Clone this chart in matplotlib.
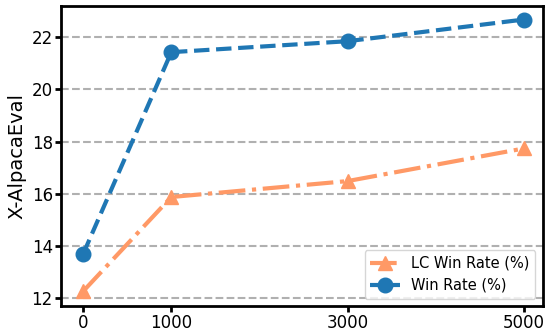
import matplotlib
matplotlib.use('Agg')
import matplotlib.pyplot as plt

steps = [0, 1000, 3000, 5000]
lc_win_rate = [12.27, 15.88, 16.49, 17.74]
win_rate = [13.70, 21.43, 21.85, 22.68]
xticks = [0, 1000, 3000, 5000]
yticks = [12, 14, 16, 18, 20, 22]


def main():
    fig, ax = plt.subplots(figsize=(5.46, 3.32), dpi=100)
    fig.subplots_adjust(left=0.112, right=0.994, top=0.982, bottom=0.078)

    ax.plot(steps, lc_win_rate, color='#ff9966', linestyle='-.', linewidth=3,
            marker='^', markersize=10.5, label='LC Win Rate (%)')
    ax.plot(steps, win_rate, color='#1f77b4', linestyle='--', linewidth=3,
            marker='o', markersize=10.5, label='Win Rate (%)')

    ax.set_xlim(-250, 5215)
    ax.set_ylim(11.7, 23.2)
    ax.set_xticks(xticks)
    ax.set_yticks(yticks)
    ax.tick_params(labelsize=12, width=2, length=4, pad=2)
    ax.set_ylabel('X-AlpacaEval', fontsize=14)
    ax.yaxis.grid(True, linestyle='--', color='#b0b0b0', linewidth=1.5)
    ax.set_axisbelow(True)
    for s in ax.spines.values():
        s.set_linewidth(2)
    ax.legend(loc='lower right', fontsize=10.5, handlelength=2.0)

    fig.savefig('out.png')


if __name__ == '__main__':
    main()
